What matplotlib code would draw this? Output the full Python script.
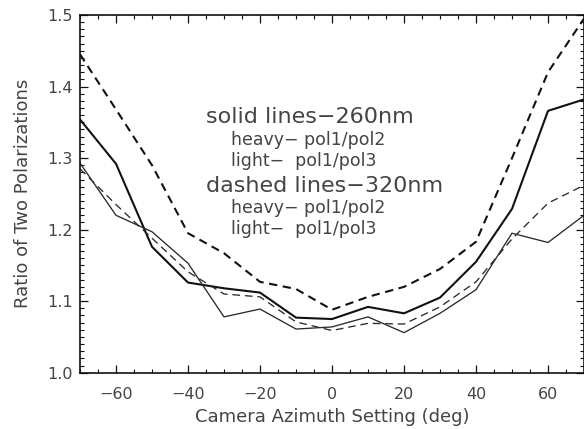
import matplotlib
matplotlib.use("Agg")
import matplotlib.pyplot as plt
from matplotlib.ticker import MultipleLocator

plt.rcParams['font.family'] = ['DejaVu Sans']
plt.rcParams['lines.scale_dashes'] = False

azimuth = [-70, -60, -50, -40, -30, -20, -10, 0, 10, 20, 30, 40, 50, 60, 70]
solid_heavy = [1.354, 1.292, 1.176, 1.126, 1.118, 1.112, 1.077, 1.075, 1.092, 1.083, 1.105, 1.155, 1.229, 1.366, 1.382]
solid_light = [1.293, 1.220, 1.197, 1.153, 1.078, 1.089, 1.061, 1.064, 1.078, 1.056, 1.083, 1.116, 1.195, 1.182, 1.220]
dashed_heavy = [1.445, 1.368, 1.290, 1.195, 1.167, 1.127, 1.117, 1.088, 1.106, 1.120, 1.145, 1.183, 1.300, 1.420, 1.495]
dashed_light = [1.285, 1.235, 1.188, 1.141, 1.110, 1.106, 1.071, 1.059, 1.069, 1.068, 1.092, 1.127, 1.187, 1.237, 1.262]

xticks = [-60, -40, -20, 0, 20, 40, 60]
yticks = [1.0, 1.1, 1.2, 1.3, 1.4, 1.5]
ytick_labels = ['1.0', '1.1', '1.2', '1.3', '1.4', '1.5']

W, H = 584, 429
fig = plt.figure(figsize=(W / 100, H / 100), dpi=100)
ax = fig.add_axes([80 / W, (H - 372.7) / H, 504 / W, (372.7 - 15) / H])

ax.plot(azimuth, solid_heavy, color='#111111', lw=1.5)
ax.plot(azimuth, solid_light, color='#2a2a2a', lw=0.95)
ax.plot(azimuth, dashed_heavy, color='#111111', lw=1.5, dashes=(6.0, 4.0))
ax.plot(azimuth, dashed_light, color='#2a2a2a', lw=0.95, dashes=(5.5, 3.5))

ax.set_xlim(-70, 70)
ax.set_ylim(1.0, 1.5)
ax.set_xticks(xticks)
ax.set_yticks(yticks)
ax.set_yticklabels(ytick_labels)
ax.xaxis.set_minor_locator(MultipleLocator(5))
ax.yaxis.set_minor_locator(MultipleLocator(0.01))
ax.tick_params(which='both', direction='in', top=True, right=True, color='#111111')
ax.tick_params(which='major', length=6, width=0.9, labelsize=11.5, labelcolor='#444444')
ax.tick_params(which='minor', length=3, width=0.8)
ax.tick_params(axis='x', which='major', pad=10.5)
ax.tick_params(axis='y', which='major', pad=5)
for s in ax.spines.values():
    s.set_linewidth(1.2)
    s.set_color('#111111')

ax.set_xlabel('Camera Azimuth Setting (deg)', fontsize=13, color='#444444', labelpad=4)
ax.set_ylabel('Ratio of Two Polarizations', fontsize=13, color='#444444', labelpad=11)

big = 16
small = 12.5
tc = '#444444'
def ftxt(x, y, s, size):
    fig.text(x / W, 1 - y / H, s, fontsize=size, color=tc, va='baseline', ha='left')

ftxt(206, 123, 'solid lines\u2212260nm', big)
ftxt(231, 145, 'heavy\u2212 pol1/pol2', small)
ftxt(231, 166, 'light\u2212  pol1/pol3', small)
ftxt(206, 192, 'dashed lines\u2212320nm', big)
ftxt(231, 213, 'heavy\u2212 pol1/pol2', small)
ftxt(231, 234, 'light\u2212  pol1/pol3', small)

fig.savefig('out.png', dpi=100)
